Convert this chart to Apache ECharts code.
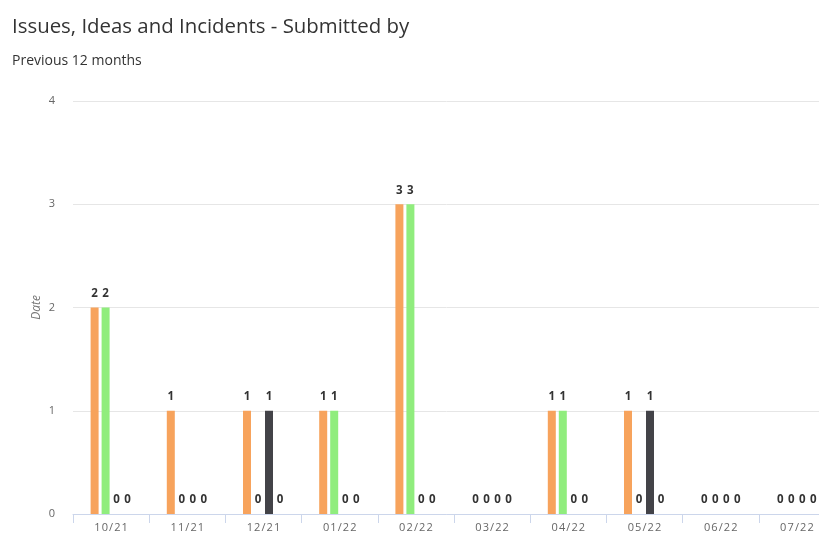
<!DOCTYPE html>
<html>
<head>
<meta charset="utf-8">
<script src="https://cdn.jsdelivr.net/npm/echarts@6/dist/echarts.min.js"></script>
<style>
html,body{margin:0;padding:0;background:#fff;}
#c{width:819px;height:554px;}
</style>
</head>
<body>
<div id="c"></div>
<script>
const categories = ['10/21','11/21','12/21','01/22','02/22','03/22','04/22','05/22','06/22','07/22'];
const seriesNames = ['Issues','Ideas','Incidents','Other'];
const orangeValues = [2,1,1,1,3,0,1,1,0,0];
const greenValues  = [2,0,0,1,3,0,1,0,0,0];
const darkValues   = [0,0,1,0,0,0,0,1,0,0];
const fourthValues = [0,0,0,0,0,0,0,0,0,0];
const yTicks = [0,1,2,3,4];

const colors = ['#f7a35c','#90ed7d','#434348','#7cb5ec'];
const font = '"Open Sans", "Noto Sans", sans-serif';
const allValues = [orangeValues, greenValues, darkValues, fourthValues];

const chart = echarts.init(document.getElementById('c'), null, {renderer:'canvas'});
chart.setOption({
  animation: false,
  title: [
    {text:'Issues, Ideas and Incidents - Submitted by', left:7, top:12,
     textStyle:{fontFamily:font, fontSize:20.4, fontWeight:'normal', color:'#333'}},
    {text:'Previous 12 months', left:7, top:49,
     textStyle:{fontFamily:font, fontSize:14, fontWeight:'normal', color:'#333'}}
  ],
  grid: {left:73, top:101, bottom:40, width:762, containLabel:false, outerBoundsMode:'none'},
  xAxis: {
    type:'category', data:categories,
    axisLine:{lineStyle:{color:'#ccd6eb'}},
    axisTick:{show:true, length:9, lineStyle:{color:'#ccd6eb'}},
    axisLabel:{color:'#666', fontFamily:font, fontSize:11, margin:8,
      formatter: v => v.split('').join('\u200A')}
  },
  yAxis: {
    type:'value', min:yTicks[0], max:yTicks[yTicks.length-1], interval:1,
    name:'Date', nameLocation:'middle', nameGap:30, nameMoveOverlap:false,
    nameTextStyle:{color:'#777', fontStyle:'italic', fontFamily:font, fontSize:12},
    axisLine:{show:false}, axisTick:{show:false},
    axisLabel:{color:'#666', fontFamily:font, fontSize:11, margin:18},
    splitLine:{lineStyle:{color:'#e6e6e6'}}
  },
  series: allValues.map((vals,i)=>({
    name: seriesNames[i], type:'bar', data: vals,
    barWidth: 8, barGap:'37.5%',
    itemStyle:{color:colors[i]},
    label:{show:true, position:'top', distance:8, color:'#333', fontWeight:'bold',
      fontFamily:font, fontSize:11.5, textBorderColor:'#fff', textBorderWidth:2}
  }))
});
</script>
</body>
</html>
